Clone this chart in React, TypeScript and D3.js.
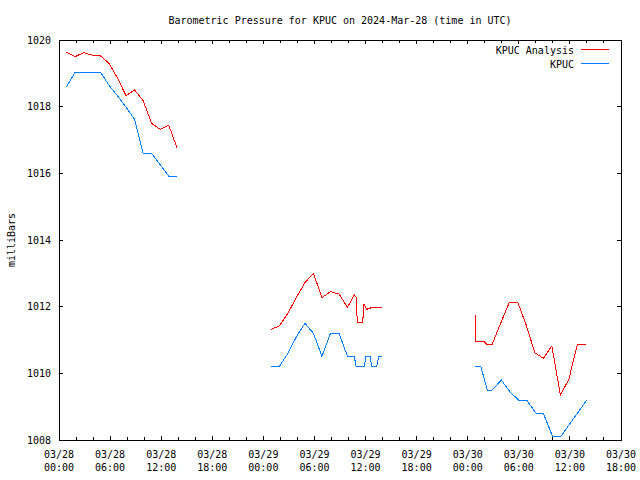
import React from "react";
import * as d3 from "d3";

// ---------- data ----------
const title = "Barometric Pressure for KPUC on 2024-Mar-28 (time in UTC)";
const yLabel = "milliBars";
const seriesNames = ["KPUC Analysis", "KPUC"];
const seriesColors = ["#ff0000", "#0080ff"];
const yTicks = [1008, 1010, 1012, 1014, 1016, 1018, 1020];
const startIso = "2024-03-28T00:00:00Z";
const endIso = "2024-03-30T18:00:00Z";

// hours after 2024-03-28 00:00 UTC; null value = gap
const analysisHours = [
  0.88, 1.88, 2.88, 3.88, 4.88, 5.88, 6.88, 7.88, 8.88, 9.88, 10.88, 11.88, 12.88, 13.88,
  19,
  24.88, 25.88, 26.88, 27.88, 28.88, 29.88, 30.88, 31.88, 32.88, 33.88, 34.68, 34.88, 35.04, 35.66, 35.82, 36.13, 36.8, 37.88,
  43,
  48.88, 48.97, 49.88, 50.2, 50.88, 51.88, 52.88, 53.88, 54.88, 55.88, 56.88, 57.88, 58.88, 59.88, 60.88, 61.88,
];
const analysisValues: (number | null)[] = [
  1019.63, 1019.5, 1019.62, 1019.55, 1019.52, 1019.3, 1018.85, 1018.33, 1018.5, 1018.18, 1017.5, 1017.32, 1017.45, 1016.75,
  null,
  1011.32, 1011.42, 1011.8, 1012.28, 1012.72, 1013.0, 1012.27, 1012.45, 1012.38, 1011.98, 1012.36, 1012.28, 1011.53, 1011.53, 1012.07, 1011.92, 1011.98, 1011.98,
  null,
  1011.75, 1010.97, 1010.97, 1010.88, 1010.88, 1011.51, 1012.13, 1012.13, 1011.44, 1010.62, 1010.45, 1010.82, 1009.35, 1009.82, 1010.88, 1010.88,
];

const kpucHours = [
  0.88, 1.88, 2.88, 3.88, 4.88, 5.88, 6.88, 7.88, 8.88, 9.88, 10.88, 11.88, 12.88, 13.88,
  19,
  24.88, 25.88, 26.88, 27.88, 28.88, 29.88, 30.88, 31.88, 32.88, 33.88, 34.68, 34.88, 35.86, 36.05, 36.52, 36.72, 37.31, 37.54, 37.88,
  43,
  48.88, 49.52, 50.3, 50.88, 51.95, 52.88, 53.94, 54.92, 56.02, 56.88, 57.98, 58.92, 59.88, 60.88, 61.97,
];
const kpucValues: (number | null)[] = [
  1018.6, 1019.03, 1019.03, 1019.03, 1019.03, 1018.64, 1018.32, 1017.98, 1017.62, 1016.6, 1016.6, 1016.26, 1015.92, 1015.92,
  null,
  1010.21, 1010.21, 1010.6, 1011.1, 1011.5, 1011.2, 1010.51, 1011.2, 1011.2, 1010.51, 1010.51, 1010.21, 1010.21, 1010.51, 1010.51, 1010.21, 1010.21, 1010.51, 1010.51,
  null,
  1010.22, 1010.22, 1009.5, 1009.5, 1009.8, 1009.47, 1009.2, 1009.2, 1008.8, 1008.8, 1008.1, 1008.1, 1008.45, 1008.8, 1009.2,
];

// ---------- layout ----------
const W = 640;
const H = 480;
const L = 59;
const R = 621;
const T = 40;
const B = 440;
const FONT = "'DejaVu Sans Mono', monospace";

type Pt = { t: Date; v: number | null };

export default function App() {
  const t0 = new Date(startIso);
  const t1 = new Date(endIso);
  const x = d3.scaleUtc().domain([t0, t1]).range([L, R]);
  const y = d3.scaleLinear().domain([1008, 1020]).range([B, T]);

  const toPts = (hours: number[], vals: (number | null)[]): Pt[] =>
    hours.map((h, i) => ({ t: new Date(t0.getTime() + h * 3600e3), v: vals[i] }));

  const line = d3
    .line<Pt>()
    .defined((d) => d.v != null)
    .x((d) => x(d.t))
    .y((d) => y(d.v as number));

  const series = [
    toPts(analysisHours, analysisValues),
    toPts(kpucHours, kpucValues),
  ];

  const majorTicks = d3.utcHour.every(6)!.range(t0, new Date(t1.getTime() + 1));
  const minorTicks = d3.utcHour
    .every(2)!
    .range(t0, new Date(t1.getTime() + 1))
    .filter((d) => d.getUTCHours() % 6 !== 0);
  const fmtDate = d3.utcFormat("%m/%d");
  const fmtTime = d3.utcFormat("%H:%M");

  const majLen = 4;
  const minLen = 3;

  return (
    <svg width={W} height={H} style={{ position: "absolute", left: 0, top: 0, background: "#fff" }}>
      <rect x={0} y={0} width={W} height={H} fill="#fff" />
      <text x={(L + R) / 2} y={24} fontFamily={FONT} fontSize={10} textAnchor="middle" fill="#000">
        {title}
      </text>
      <text
        transform={`translate(${15},${(T + B) / 2}) rotate(-90)`}
        fontFamily={FONT}
        fontSize={10}
        textAnchor="middle"
        fill="#000"
      >
        {yLabel}
      </text>

      <g shapeRendering="crispEdges" stroke="#000" strokeWidth={1}>
        {yTicks.map((v) => (
          <g key={"y" + v}>
            <line x1={L} x2={L + majLen} y1={y(v)} y2={y(v)} />
            <line x1={R} x2={R - majLen} y1={y(v)} y2={y(v)} />
          </g>
        ))}
        {majorTicks.map((d, i) => (
          <g key={"mx" + i}>
            <line x1={x(d)} x2={x(d)} y1={B} y2={B - majLen} />
            <line x1={x(d)} x2={x(d)} y1={T} y2={T + majLen} />
          </g>
        ))}
        {minorTicks.map((d, i) => (
          <g key={"nx" + i}>
            <line x1={x(d)} x2={x(d)} y1={B} y2={B - minLen} />
            <line x1={x(d)} x2={x(d)} y1={T} y2={T + minLen} />
          </g>
        ))}
      </g>

      {yTicks.map((v) => (
        <text key={"yl" + v} x={51} y={y(v) + 3.6} fontFamily={FONT} fontSize={10} textAnchor="end" fill="#000">
          {v}
        </text>
      ))}
      {majorTicks.map((d, i) => (
        <g key={"xl" + i}>
          <text x={x(d)} y={457.7} fontFamily={FONT} fontSize={10} textAnchor="middle" fill="#000">
            {fmtDate(d)}
          </text>
          <text x={x(d)} y={470.7} fontFamily={FONT} fontSize={10} textAnchor="middle" fill="#000">
            {fmtTime(d)}
          </text>
        </g>
      ))}

      {series.map((pts, i) => (
        <path
          key={"s" + i}
          d={line(pts) || ""}
          fill="none"
          stroke={seriesColors[i]}
          strokeWidth={1}
          shapeRendering="crispEdges"
        />
      ))}

      {seriesNames.map((name, i) => (
        <g key={"lg" + i}>
          <text x={574} y={53.5 + i * 14} fontFamily={FONT} fontSize={10} textAnchor="end" fill="#000">
            {name}
          </text>
          <line x1={581} x2={609} y1={49.5 + i * 14} y2={49.5 + i * 14} stroke={seriesColors[i]} strokeWidth={1} shapeRendering="crispEdges" />
        </g>
      ))}

      <rect x={L} y={T} width={R - L} height={B - T} fill="none" stroke="#000" strokeWidth={1} shapeRendering="crispEdges" />
    </svg>
  );
}
